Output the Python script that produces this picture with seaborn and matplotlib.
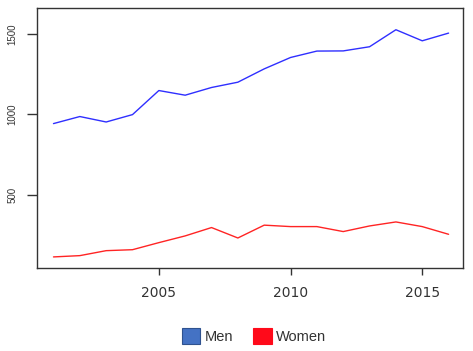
import matplotlib
matplotlib.use("Agg")
import matplotlib.pyplot as plt
from matplotlib.patches import Patch
import seaborn as sns
import pandas as pd

# yearly counts
years = list(range(2001, 2017))
men = [942, 986, 952, 998, 1148, 1119, 1167, 1200, 1283, 1354, 1394, 1395, 1421, 1527, 1458, 1506]
women = [111, 119, 150, 156, 200, 242, 294, 229, 309, 300, 300, 269, 304, 329, 300, 252]
series = ["Men", "Women"]
line_colors = {"Men": "#2f2fff", "Women": "#ff2424"}
legend_colors = ["#4472c4", "#ff0a1a"]
legend_edges = ["#2f528f", "#ff0a1a"]

df = pd.DataFrame({
    "year": years * 2,
    "value": men + women,
    "group": ["Men"] * len(years) + ["Women"] * len(years),
})

sns.set_style("white")
plt.rcParams['font.family'] = ['Liberation Sans', 'DejaVu Sans']

fig = plt.figure(figsize=(4.73, 3.51), dpi=100)
ax = fig.add_axes([0.078, 0.2365, 0.901, 0.7405])

sns.lineplot(data=df, x="year", y="value", hue="group", palette=line_colors,
             linewidth=1.0, legend=False, ax=ax)

ax.set_xlim(2000.37, 2016.55)
ax.set_ylim(42, 1662)
ax.set_xticks([2005, 2010, 2015])
ax.set_yticks([500, 1000, 1500])
ax.set_xlabel("")
ax.set_ylabel("")

for s in ax.spines.values():
    s.set_color("#333333")
    s.set_linewidth(1.0)

ax.tick_params(axis="x", bottom=True, direction="out", length=5, width=1, color="#333333",
               pad=8, labelsize=10, labelcolor="#333333")
ax.tick_params(axis="y", left=True, direction="out", length=7, width=1, color="#333333",
               pad=7, labelsize=7, labelcolor="#333333")
for lab in ax.get_xticklabels():
    lab.set_family("DejaVu Sans")
for lab in ax.get_yticklabels():
    lab.set_rotation(90)
    lab.set_va("center")

handles = [Patch(facecolor=c, edgecolor=e, linewidth=0.8)
           for c, e in zip(legend_colors, legend_edges)]
fig.legend(handles, series, loc="center", bbox_to_anchor=(0.537, 0.043),
           ncol=2, frameon=False, fontsize=10.5, handlelength=1.25, handleheight=1.25,
           handletextpad=0.3, columnspacing=1.4, labelcolor="#333333")

fig.savefig("out.png", dpi=100)
